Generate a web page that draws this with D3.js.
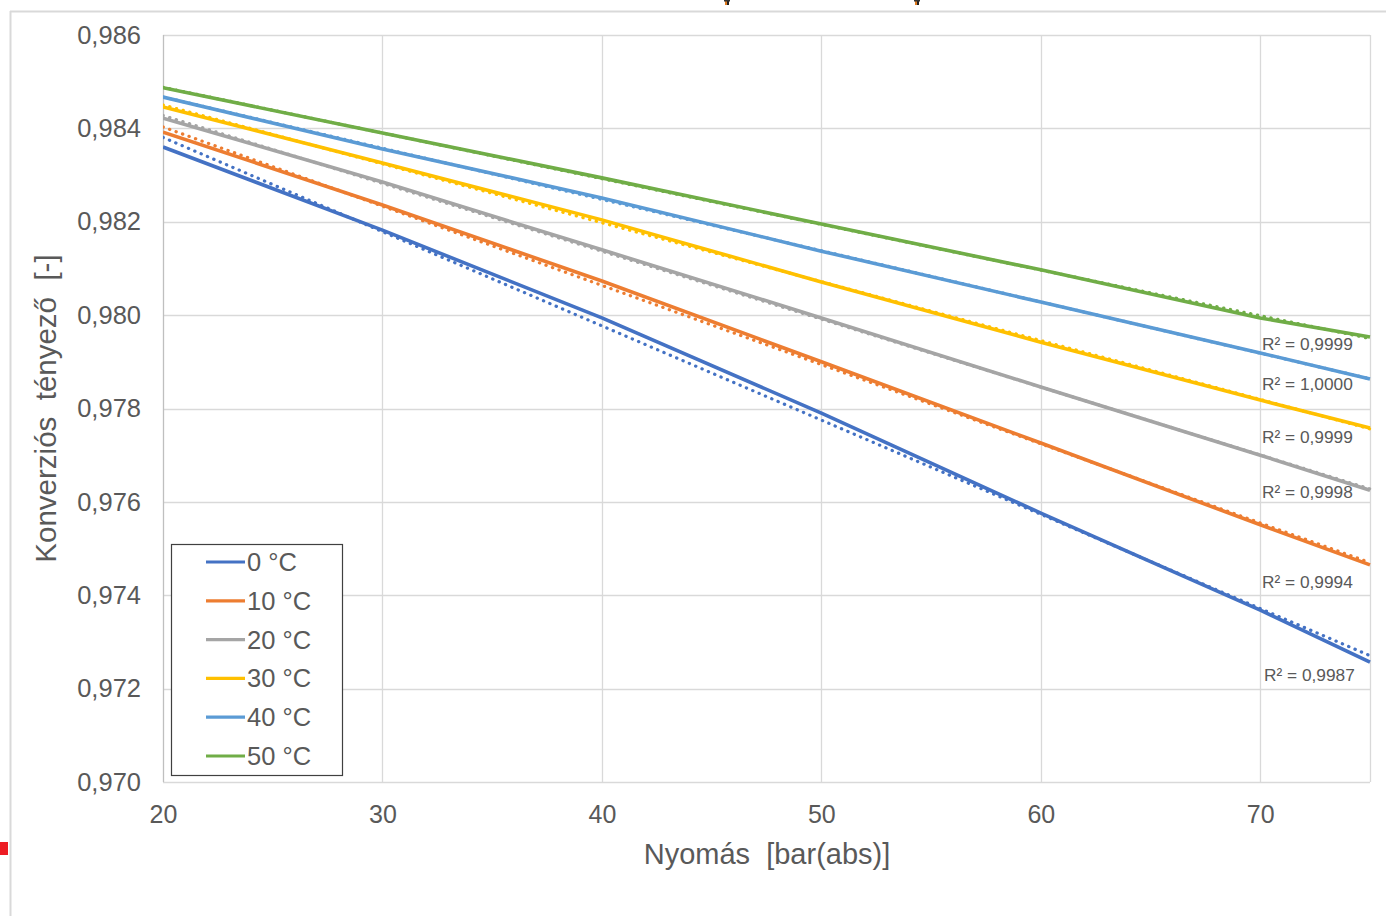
<!DOCTYPE html>
<html>
<head>
<meta charset="utf-8">
<script src="https://cdn.jsdelivr.net/npm/d3@7"></script>
<style>
  html, body { margin: 0; padding: 0; background: #fff; }
  svg { display: block; font-family: "Liberation Sans", Arial, sans-serif; }
  text { white-space: pre; }
</style>
</head>
<body>
<svg id="chart" width="1386" height="916"></svg>
<script>
// ---- data ----
const pressures = [20, 30, 40, 50, 60, 70, 75];
const seriesNames = ["0 °C", "10 °C", "20 °C", "30 °C", "40 °C", "50 °C"];
const t0  = [0.98360, 0.98182, 0.97994, 0.97790, 0.97576, 0.97368, 0.97257];
const t10 = [0.98392, 0.98236, 0.98073, 0.97900, 0.97726, 0.97551, 0.97465];
const t20 = [0.98422, 0.98285, 0.98140, 0.97994, 0.97846, 0.97700, 0.97625];
const t30 = [0.98446, 0.98326, 0.98204, 0.98071, 0.97942, 0.97818, 0.97758];
const t40 = [0.98467, 0.98356, 0.98251, 0.98137, 0.98028, 0.97919, 0.97863];
const t50 = [0.98487, 0.98390, 0.98294, 0.98195, 0.98097, 0.97994, 0.97953];
const seriesValues = [t0, t10, t20, t30, t40, t50];
const seriesColors = ["#4472C4", "#ED7D31", "#A5A5A5", "#FFC000", "#5B9BD5", "#70AD47"];
const r2Labels = ["R² = 0,9987", "R² = 0,9994", "R² = 0,9998", "R² = 0,9999", "R² = 1,0000", "R² = 0,9999"];
const xTicks = [20, 30, 40, 50, 60, 70];
const yTicks = [0.970, 0.972, 0.974, 0.976, 0.978, 0.980, 0.982, 0.984, 0.986];
const xTitle = "Nyomás  [bar(abs)]";
const yTitle = "Konverziós  tényező  [-]";

// ---- layout ----
const svg = d3.select("#chart");
const L = 163, R = 1370, T = 35, B = 782;
const x = d3.scaleLinear().domain([20, 75]).range([L, R]);
const y = d3.scaleLinear().domain([0.970, 0.986]).range([B, T]);
const textColor = "#595959";
const gridColor = "#d9d9d9";

// outer chart frame fragments
svg.append("line").attr("x1", 10).attr("x2", 1386).attr("y1", 11.5).attr("y2", 11.5)
  .attr("stroke", "#d9d9d9").attr("stroke-width", 2);
svg.append("line").attr("x1", 10.5).attr("x2", 10.5).attr("y1", 11).attr("y2", 916)
  .attr("stroke", "#d9d9d9").attr("stroke-width", 2);
svg.append("rect").attr("x", 0).attr("y", 842).attr("width", 8).attr("height", 13).attr("fill", "#ED1C24");
// small artifacts at top edge
[727, 917].forEach(cx => {
  svg.append("rect").attr("x", cx - 2).attr("y", 0).attr("width", 2).attr("height", 5).attr("fill", "#E07B20");
  svg.append("rect").attr("x", cx).attr("y", 0).attr("width", 2).attr("height", 5).attr("fill", "#222");
  svg.append("rect").attr("x", cx - 3).attr("y", 0).attr("width", 6).attr("height", 1.5).attr("fill", "#333");
});

// gridlines
const g = svg.append("g");
g.selectAll(".hg").data(yTicks).join("line")
  .attr("x1", L).attr("x2", R)
  .attr("y1", d => Math.round(y(d)) + 0.5).attr("y2", d => Math.round(y(d)) + 0.5)
  .attr("stroke", gridColor).attr("stroke-width", 1.3);
g.selectAll(".vg").data(xTicks.slice(1)).join("line")
  .attr("x1", d => Math.round(x(d)) + 0.5).attr("x2", d => Math.round(x(d)) + 0.5)
  .attr("y1", T).attr("y2", B)
  .attr("stroke", gridColor).attr("stroke-width", 1.3);
g.append("line").attr("x1", R + 0.5).attr("x2", R + 0.5).attr("y1", T).attr("y2", B)
  .attr("stroke", gridColor).attr("stroke-width", 1.3);
g.append("line").attr("x1", L + 0.5).attr("x2", L + 0.5).attr("y1", T).attr("y2", B)
  .attr("stroke", "#bfbfbf").attr("stroke-width", 1.3);

// axes labels via d3 axes
const yAxis = d3.axisLeft(y).tickValues(yTicks).tickSize(0).tickPadding(22)
  .tickFormat(d => d3.format(".3f")(d).replace(".", ","));
const ya = svg.append("g").attr("transform", `translate(${L},0)`).call(yAxis);
ya.select(".domain").remove();
ya.selectAll("text").attr("fill", textColor).attr("font-size", 25.5)
  .attr("font-family", "'Liberation Sans', Arial, sans-serif");

const xAxis = d3.axisBottom(x).tickValues(xTicks).tickSize(0).tickPadding(23);
const xa = svg.append("g").attr("transform", `translate(0,${B})`).call(xAxis);
xa.select(".domain").remove();
xa.selectAll("text").attr("fill", textColor).attr("font-size", 25)
  .attr("font-family", "'Liberation Sans', Arial, sans-serif");

// titles
svg.append("text").attr("x", 767).attr("y", 864).attr("text-anchor", "middle")
  .attr("fill", textColor).attr("font-size", 29).text(xTitle);
svg.append("text").attr("transform", `translate(56,${(T + B) / 2}) rotate(-90)`)
  .attr("text-anchor", "middle").attr("fill", textColor).attr("font-size", 29.5).text(yTitle);

// lines
const clip = svg.append("clipPath").attr("id", "clip").append("rect")
  .attr("x", L).attr("y", T - 5).attr("width", R - L + 2).attr("height", B - T + 10);
const line = d3.line().x((d, i) => x(pressures[i])).y(d => y(d));
const plot = svg.append("g").attr("clip-path", "url(#clip)");

function linFit(xs, ys) {
  const n = xs.length;
  const mx = d3.mean(xs), my = d3.mean(ys);
  let sxy = 0, sxx = 0;
  for (let i = 0; i < n; i++) { sxy += (xs[i] - mx) * (ys[i] - my); sxx += (xs[i] - mx) ** 2; }
  const b = sxy / sxx; const a = my - b * mx;
  return p => a + b * p;
}

seriesValues.forEach((vals, k) => {
  plot.append("path").datum(vals).attr("d", line).attr("fill", "none")
    .attr("stroke", seriesColors[k]).attr("stroke-width", 3.6).attr("stroke-linejoin", "round");
});
seriesValues.forEach((vals, k) => {
  const f = linFit(pressures, vals);
  const ends = [d3.min(pressures), d3.max(pressures)];
  plot.append("line")
    .attr("x1", x(ends[0])).attr("y1", y(f(ends[0])))
    .attr("x2", x(ends[1])).attr("y2", y(f(ends[1])))
    .attr("stroke", seriesColors[k]).attr("stroke-width", 3.2)
    .attr("stroke-linecap", "round")
    .attr("stroke-dasharray", "0.3 6.6");
});

// R² labels
const r2Y = [675, 582, 492, 437, 384, 344];
r2Labels.forEach((t, k) => {
  svg.append("text").attr("x", k === 0 ? 1264 : 1262).attr("y", r2Y[k] + 6)
    .attr("fill", textColor).attr("font-size", 17.3).text(t);
});

// legend
const lg = svg.append("g");
lg.append("rect").attr("x", 171.5).attr("y", 544.5).attr("width", 171).attr("height", 231)
  .attr("fill", "#fff").attr("stroke", "#404040").attr("stroke-width", 1.2);
seriesNames.forEach((n, k) => {
  const cy = 562 + k * 38.8;
  lg.append("line").attr("x1", 206).attr("x2", 245).attr("y1", cy).attr("y2", cy)
    .attr("stroke", seriesColors[k]).attr("stroke-width", 3.2);
  lg.append("text").attr("x", 247).attr("y", cy + 9).attr("fill", textColor)
    .attr("font-size", 25.5).text(n);
});
</script>
</body>
</html>
